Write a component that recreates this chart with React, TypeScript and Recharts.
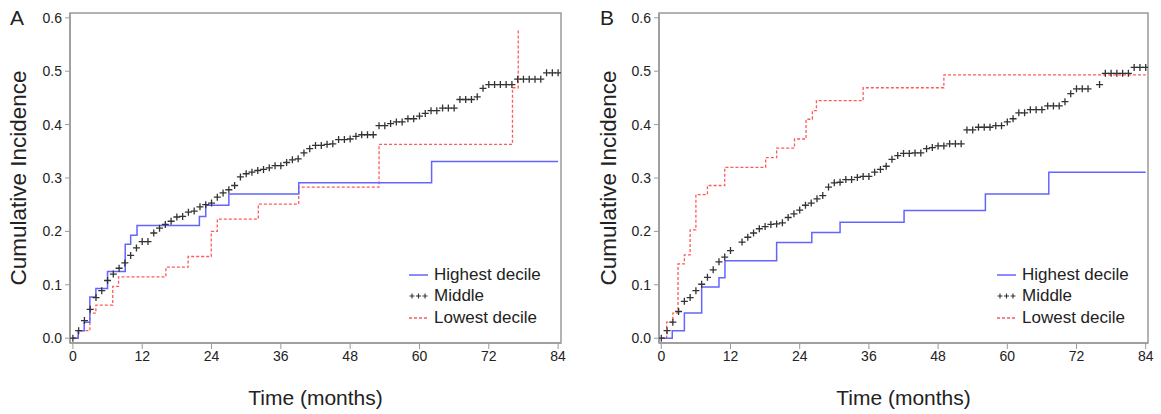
import React from "react";
import { LineChart, Line, XAxis, YAxis, ReferenceArea } from "recharts";

const FONT = "'Liberation Sans', Arial, sans-serif";
const BLUE = "#6464ff";
const RED = "#ff5a5a";
const FRAME = "#9a9a9a";
const INK = "#222";

const X_TICKS = [0, 12, 24, 36, 48, 60, 72, 84];
const Y_TICKS = [0, 0.1, 0.2, 0.3, 0.4, 0.5, 0.6];
const LEGEND_LABELS = ["Highest decile", "Middle", "Lowest decile"];

// panel A: [month, cumulative incidence] step points
const HIGH_A: [number, number][] = [
  [0, 0], [0.92, 0.014], [1.96, 0.03], [2.94, 0.077], [3.98, 0.093], [6.0, 0.125],
  [9.06, 0.176], [10.0, 0.193], [11.1, 0.211], [21.9, 0.228], [23.0, 0.249],
  [27.0, 0.27], [39.1, 0.291], [62.1, 0.331], [84, 0.331],
];
const LOW_A: [number, number][] = [
  [0, 0], [0.92, 0.014], [2.94, 0.047], [3.98, 0.062], [6.9, 0.097], [7.9, 0.115],
  [16.1, 0.133], [19.95, 0.153], [23.95, 0.2], [25.0, 0.223], [32.1, 0.251],
  [39.1, 0.283], [53.0, 0.363], [76.1, 0.469], [77.1, 0.578],
];
// middle group, one marker per month 0..84
const MID_A: (number | null)[] = [
  0, 0.014, 0.033, 0.054, 0.076, 0.089, 0.108, 0.12, 0.131, 0.141,
  0.155, 0.169, 0.181, 0.181, 0.197, 0.206, 0.213, 0.219, 0.227, 0.228,
  0.236, 0.238, 0.246, 0.25, 0.253, 0.264, 0.272, 0.278, 0.286, 0.302,
  0.308, 0.311, 0.314, 0.316, 0.319, 0.323, 0.323, 0.329, 0.334, 0.336,
  0.347, 0.355, 0.361, 0.361, 0.363, 0.364, 0.372, 0.372, 0.373, 0.378,
  0.381, 0.381, 0.381, 0.398, 0.398, 0.402, 0.405, 0.405, 0.411, 0.411,
  0.416, 0.421, 0.426, 0.426, 0.431, 0.431, 0.431, 0.447, 0.447, 0.447,
  0.452, 0.468, 0.475, 0.475, 0.475, 0.475, 0.475, 0.485, 0.485, 0.485,
  0.485, 0.485, 0.497, 0.497, 0.497,
];

// panel B
const HIGH_B: [number, number][] = [
  [0, 0], [1.9, 0.014], [4.0, 0.047], [7.0, 0.096], [10.0, 0.113], [11.04, 0.145],
  [20.0, 0.179], [26.1, 0.198], [31.0, 0.217], [42.1, 0.239], [56.2, 0.27],
  [67.2, 0.311], [84, 0.311],
];
const LOW_B: [number, number][] = [
  [0, 0], [0.93, 0.03], [2.0, 0.047], [2.9, 0.139], [4.0, 0.156], [5.0, 0.203],
  [6.0, 0.269], [8.0, 0.286], [11.0, 0.32], [18.1, 0.338], [20.0, 0.356],
  [23.1, 0.373], [25.1, 0.41], [26.2, 0.426], [26.9, 0.445], [35.0, 0.469],
  [49.0, 0.493], [84, 0.493],
];
const MID_B: (number | null)[] = [
  0, 0.014, 0.03, 0.05, 0.069, 0.076, 0.089, 0.101, 0.114, 0.128,
  0.143, 0.152, 0.164, null, 0.18, 0.189, 0.197, 0.205, 0.209, 0.213,
  0.214, 0.216, 0.226, 0.233, 0.24, 0.249, 0.253, 0.261, 0.267, 0.283,
  0.291, 0.292, 0.297, 0.297, 0.301, 0.303, 0.303, 0.311, 0.316, 0.322,
  0.335, 0.342, 0.346, 0.346, 0.347, 0.347, 0.355, 0.357, 0.36, 0.36,
  0.364, 0.364, 0.364, 0.39, 0.39, 0.395, 0.395, 0.395, 0.398, 0.398,
  0.405, 0.411, 0.422, 0.422, 0.428, 0.428, 0.428, 0.435, 0.435, 0.435,
  0.443, 0.458, 0.467, 0.467, 0.467, null, 0.475, 0.496, 0.496, 0.496,
  0.496, 0.496, 0.507, 0.507, 0.507,
];

const Y_DOMAIN: [number, number] = [-0.009, 0.609];

const toRows = (pts: [number, number][]) => pts.map(([t, v]) => ({ t, v }));
const midRows = (vals: (number | null)[]) =>
  vals.map((v, t) => ({ t, v })).filter((r) => r.v != null);

function Plus(props: any) {
  const { cx, cy } = props;
  if (cx == null || cy == null) return null;
  return (
    <path
      d={`M${cx - 3.5},${cy}H${cx + 3.5}M${cx},${cy - 3.5}V${cy + 3.5}`}
      stroke="#333"
      strokeWidth={1.3}
      fill="none"
    />
  );
}

function Legend({ left, top }: { left: number; top: number }) {
  const sample = (i: number) => {
    if (i === 0) return <line x1={0} y1={5} x2={19} y2={5} stroke={BLUE} strokeWidth={1.5} />;
    if (i === 2)
      return <line x1={0} y1={5} x2={19} y2={5} stroke={RED} strokeWidth={1.3} strokeDasharray="3 2" />;
    return (
      <path
        d="M0.5,5H5.5M3,2.5V7.5M7,5H12M9.5,2.5V7.5M13.5,5H18.5M16,2.5V7.5"
        stroke="#333"
        strokeWidth={1.1}
        fill="none"
      />
    );
  };
  return (
    <div style={{ position: "absolute", left, top, fontFamily: FONT, fontSize: 17, color: INK }}>
      {LEGEND_LABELS.map((name, i) => (
        <div key={name} style={{ display: "flex", alignItems: "center", height: 21.5 }}>
          <svg width={20} height={10} style={{ marginRight: 5 }}>
            {sample(i)}
          </svg>
          <span>{name}</span>
        </div>
      ))}
    </div>
  );
}

function Panel({
  letter, high, low, mid, left, width, axisW, right, xDomain,
}: {
  letter: string;
  high: [number, number][];
  low: [number, number][];
  mid: (number | null)[];
  left: number;
  width: number;
  axisW: number;
  right: number;
  xDomain: [number, number];
}) {
  const tick = { fill: INK, fontSize: 14, fontFamily: FONT };
  return (
    <div style={{ position: "absolute", left, top: 0, width, height: 414 }}>
      <LineChart width={width} height={414} margin={{ top: 13, right, bottom: 0, left: 0 }}>
        <XAxis
          type="number"
          dataKey="t"
          domain={xDomain}
          allowDataOverflow
          ticks={X_TICKS}
          tick={tick}
          tickSize={6}
          tickLine={{ stroke: FRAME }}
          axisLine={{ stroke: FRAME, strokeWidth: 1.5 }}
          height={71}
          label={{
            value: "Time (months)",
            position: "insideBottom",
            offset: 9,
            style: { fontSize: 21, fontFamily: FONT, fill: INK },
          }}
        />
        <YAxis
          type="number"
          domain={Y_DOMAIN}
          allowDataOverflow
          ticks={Y_TICKS}
          tickFormatter={(v) => v.toFixed(1)}
          tick={tick}
          tickSize={5}
          tickMargin={3}
          tickLine={{ stroke: FRAME }}
          axisLine={{ stroke: FRAME, strokeWidth: 1.5 }}
          width={axisW}
          label={{
            value: "Cumulative Incidence",
            angle: -90,
            position: "insideLeft",
            offset: 18,
            style: { fontSize: 22.5, fontFamily: FONT, fill: INK, textAnchor: "middle" },
          }}
        />
        <ReferenceArea
          x1={xDomain[0]}
          x2={xDomain[1]}
          y1={Y_DOMAIN[0]}
          y2={Y_DOMAIN[1]}
          fill="none"
          stroke={FRAME}
          strokeWidth={1.5}
          ifOverflow="visible"
        />
        <Line
          data={toRows(low)}
          dataKey="v"
          type="stepAfter"
          stroke={RED}
          strokeWidth={1.3}
          strokeDasharray="3 2"
          dot={false}
          isAnimationActive={false}
        />
        <Line
          data={toRows(high)}
          dataKey="v"
          type="stepAfter"
          stroke={BLUE}
          strokeWidth={1.5}
          dot={false}
          isAnimationActive={false}
        />
        <Line
          data={midRows(mid)}
          dataKey="v"
          stroke="none"
          dot={(p: any) => <Plus {...p} key={p.index} />}
          activeDot={false}
          isAnimationActive={false}
        />
      </LineChart>
      <div
        style={{
          position: "absolute",
          left: 10,
          top: 6,
          fontFamily: FONT,
          fontSize: 21,
          color: INK,
        }}
      >
        {letter}
      </div>
    </div>
  );
}

export default function App() {
  return (
    <div
      style={{
        position: "absolute",
        left: 0,
        top: 0,
        width: 1161,
        height: 414,
        background: "#fff",
        overflow: "hidden",
      }}
    >
      <Panel letter="A" high={HIGH_A} low={LOW_A} mid={MID_A} left={0} width={590} axisW={70} right={29} xDomain={[-0.5, 84.5]} />
      <Panel letter="B" high={HIGH_B} low={LOW_B} mid={MID_B} left={590} width={571} axisW={69} right={13} xDomain={[-0.4, 84.4]} />
      <Legend left={409} top={264} />
      <Legend left={997} top={264} />
    </div>
  );
}
